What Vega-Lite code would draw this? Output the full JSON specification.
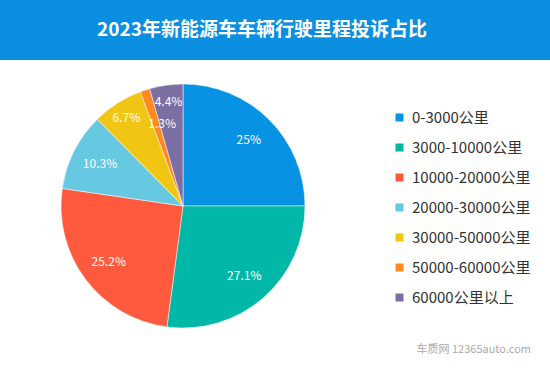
{
  "$schema": "https://vega.github.io/schema/vega-lite/v6.json",
  "padding": 0,
  "background": "white",
  "spacing": 0,
  "title": {"text": "车质网 12365auto.com", "orient": "bottom", "anchor": "end", "fontSize": 11, "fontWeight": "normal", "color": "#aaaaaa", "offset": -8, "dx": -19, "font": "Noto Sans CJK SC"},
  "config": {"view": {"stroke": null}, "font": "Noto Sans CJK SC"},
  "vconcat": [
    {
      "width": 550,
      "height": 60,
      "view": {"fill": "#0a8fe0", "stroke": null},
      "data": {"values": [{"t": "2023年新能源车车辆行驶里程投诉占比"}]},
      "mark": {"type": "text", "fontSize": 19, "fontWeight": "bold", "color": "white", "font": "Noto Sans CJK SC", "dx": -13},
      "encoding": {"text": {"field": "t"}}
    },
    {
      "width": 366,
      "height": 292,
      "data": {"values": [
        {"range": "0-3000公里", "share": 0.25, "rank": 1},
        {"range": "3000-10000公里", "share": 0.271, "rank": 2},
        {"range": "10000-20000公里", "share": 0.252, "rank": 3},
        {"range": "20000-30000公里", "share": 0.103, "rank": 4},
        {"range": "30000-50000公里", "share": 0.067, "rank": 5},
        {"range": "50000-60000公里", "share": 0.013, "rank": 6},
        {"range": "60000公里以上", "share": 0.044, "rank": 7}
      ]},
      "encoding": {
        "theta": {"field": "share", "type": "quantitative", "stack": true},
        "order": {"field": "rank", "type": "quantitative"},
        "color": {
          "field": "range", "type": "nominal",
          "scale": {
            "domain": ["0-3000公里", "3000-10000公里", "10000-20000公里", "20000-30000公里", "30000-50000公里", "50000-60000公里", "60000公里以上"],
            "range": ["#0892e3", "#00b7a8", "#ff5a3e", "#67c8e2", "#f1c513", "#ff8a1f", "#7b6ea3"]
          },
          "legend": {
            "orient": "none", "legendX": 392, "legendY": 110, "title": null,
            "symbolType": "square", "symbolSize": 64, "symbolStrokeWidth": 0,
            "labelFontSize": 15, "labelColor": "#333333", "labelFont": "Noto Sans CJK SC",
            "labelOffset": 5, "rowPadding": 14, "padding": 0
          }
        }
      },
      "layer": [
        {"mark": {"type": "arc", "outerRadius": 122, "stroke": "white", "strokeWidth": 0.5}},
        {
          "mark": {"type": "text", "radius": 93, "fill": "white", "fontSize": 12, "font": "Noto Sans CJK SC"},
          "encoding": {
            "text": {"condition": {"test": "datum.rank <= 4", "field": "share", "type": "quantitative", "format": ".1~%"}, "value": ""},
            "color": {"value": "white"}
          }
        },
        {
          "mark": {"type": "text", "radius": 105, "fill": "white", "fontSize": 12, "font": "Noto Sans CJK SC"},
          "encoding": {
            "text": {"condition": {"test": "datum.rank == 5 || datum.rank == 7", "field": "share", "type": "quantitative", "format": ".1~%"}, "value": ""},
            "color": {"value": "white"}
          }
        },
        {
          "mark": {"type": "text", "radius": 86, "dx": 6, "fill": "white", "fontSize": 12, "font": "Noto Sans CJK SC"},
          "encoding": {
            "text": {"condition": {"test": "datum.rank == 6", "field": "share", "type": "quantitative", "format": ".1~%"}, "value": ""},
            "color": {"value": "white"}
          }
        }
      ]
    }
  ]
}
